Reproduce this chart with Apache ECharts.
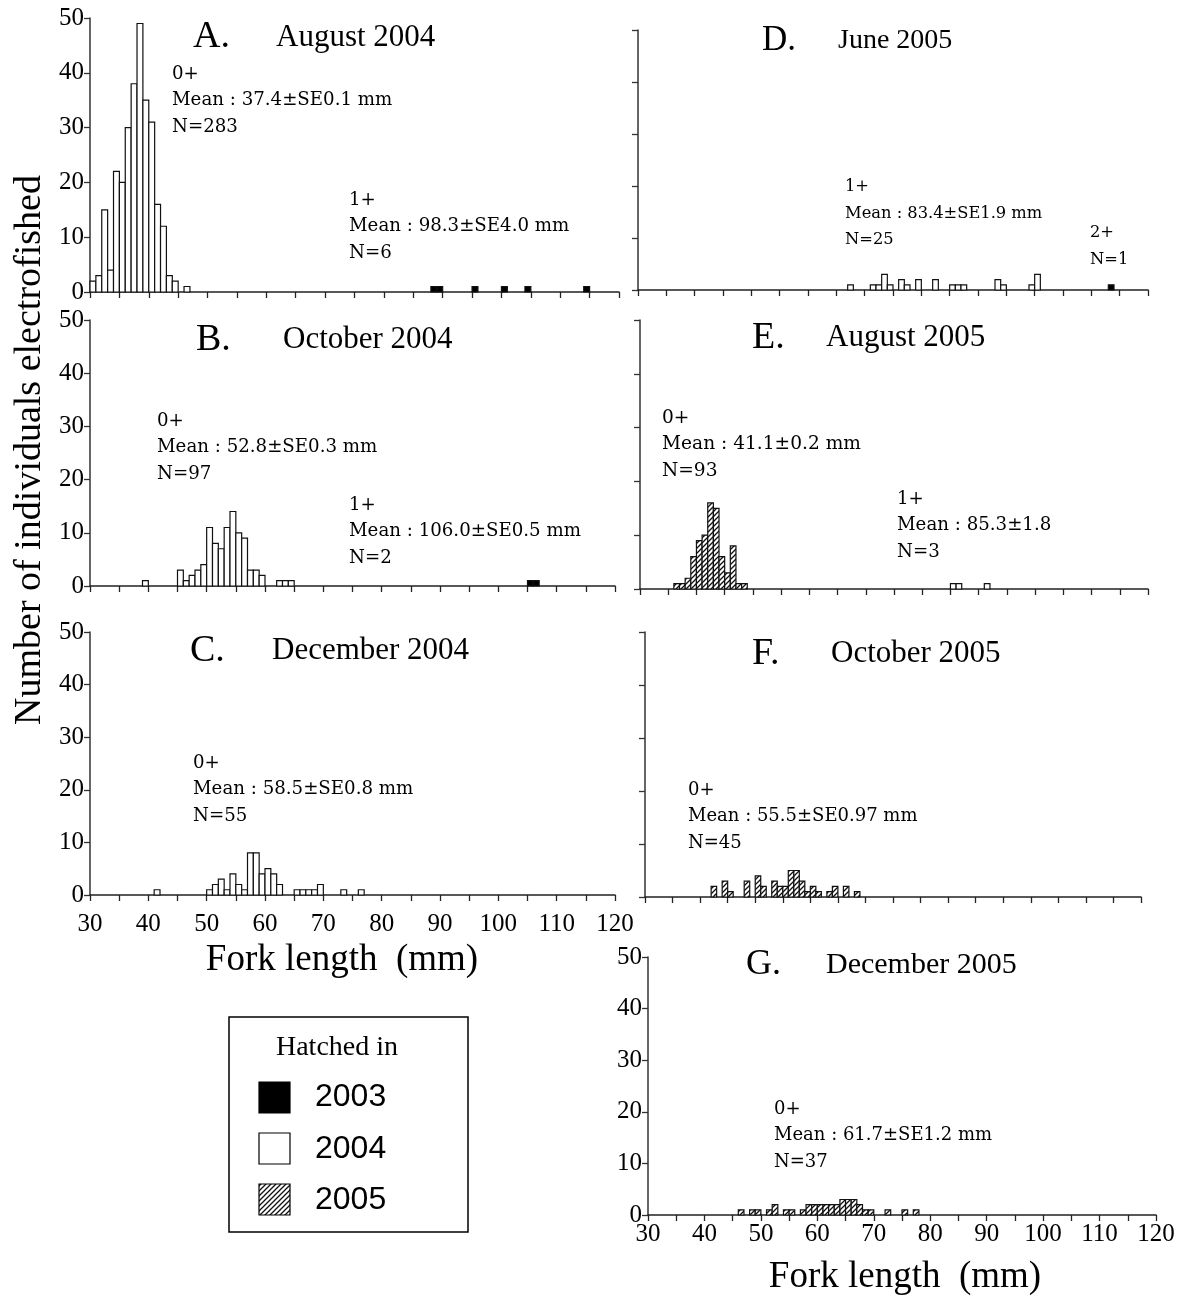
<!DOCTYPE html>
<html><head><meta charset="utf-8">
<script src="https://cdn.jsdelivr.net/npm/echarts@6/dist/echarts.min.js"></script>
<style>html,body{margin:0;padding:0;background:#fff}#c{width:1184px;height:1300px}</style>
</head><body><div id="c"></div>
<script>
// ---- Data: fork-length classes (mm, lower edge of 1-mm class) and counts ----
const xTicks = [30,40,50,60,70,80,90,100,110,120];
const yTicks = [0,10,20,30,40,50];

// A. August 2004
const aLen04 = [30,31,32,33,34,35,36,37,38,39,40,41,42,43,44,46];
const aCnt04 = [2,3,15,4,22,20,30,38,49,35,31,16,12,3,2,1];
const aLen03 = [88,89,95,100,104,114];
const aCnt03 = [1,1,1,1,1,1];
// B. October 2004
const bLen04 = [39,45,46,47,48,49,50,51,52,53,54,55,56,57,58,59,62,63,64];
const bCnt04 = [1,3,1,2,3,4,11,8,7,11,14,10,9,3,3,2,1,1,1];
const bLen03 = [105,106];
const bCnt03 = [1,1];
// C. December 2004
const cLen04 = [41,50,51,52,53,54,55,56,57,58,59,60,61,62,65,66,67,68,69,73,76];
const cCnt04 = [1,1,2,3,1,4,2,1,8,8,4,5,4,2,1,1,1,1,2,1,1];
// D. June 2005
const dLen04 = [67,71,72,73,74,76,77,79,82,85,86,87,93,94,99,100];
const dCnt04 = [1,1,1,3,1,2,1,2,2,1,1,1,2,1,1,3];
const dLen03 = [113];
const dCnt03 = [1];
// E. August 2005
const eLen05 = [36,37,38,39,40,41,42,43,44,45,46,47,48];
const eCnt05 = [1,1,2,6,9,10,16,15,6,3,8,1,1];
const eLen04 = [85,86,91];
const eCnt04 = [1,1,1];
// F. October 2005
const fLen05 = [42,44,45,48,50,51,53,54,55,56,57,58,59,60,61,63,64,66,68];
const fCnt05 = [2,3,1,3,4,2,3,2,2,5,5,3,1,2,1,1,2,2,1];
// G. December 2005
const gLen05 = [46,48,49,51,52,54,55,57,58,59,60,61,62,63,64,65,66,67,68,69,72,75,77];
const gCnt05 = [1,1,1,1,2,1,1,1,2,2,2,2,2,2,3,3,3,2,1,1,1,1,1];

// ---- hatch pattern ----
function makeHatch(){
  const s = 5, cv = document.createElement('canvas');
  cv.width = s; cv.height = s;
  const ctx = cv.getContext('2d');
  ctx.fillStyle = '#fff'; ctx.fillRect(0,0,s,s);
  ctx.strokeStyle = '#111'; ctx.lineWidth = 1.3;
  ctx.beginPath();
  ctx.moveTo(0,s); ctx.lineTo(s,0);
  ctx.moveTo(-1,1); ctx.lineTo(1,-1);
  ctx.moveTo(s-1,s+1); ctx.lineTo(s+1,s-1);
  ctx.stroke();
  return cv;
}
const hatch = {image: makeHatch(), repeat: 'repeat'};
const FILL = {y2003:'#000', y2004:'#fff', y2005: hatch};

const SERIF = '"Liberation Serif", "DejaVu Serif", serif';
const NOTE = '"DejaVu Serif", serif';
const SANS = '"Liberation Sans", Arial, sans-serif';

const panels = [
  {left:90, top:18, width:529, height:274, yl:true, xl:false},
  {left:90, top:320, width:525, height:266, yl:true, xl:false},
  {left:90, top:632, width:525, height:263, yl:true, xl:true, xm:17},
  {left:638, top:30, width:510, height:260, yl:false, xl:false},
  {left:640, top:320, width:508, height:269, yl:false, xl:false},
  {left:645, top:632, width:496, height:265, yl:false, xl:false},
  {left:648, top:957, width:508, height:258, yl:true, xl:true, xm:7}
];

const grid = [], xAxis = [], yAxis = [];
panels.forEach((p,i)=>{
  grid.push({left:p.left, top:p.top, width:p.width, height:p.height, containLabel:false});
  xAxis.push({type:'value', gridIndex:i, min:30, max:120, interval:5,
    axisLine:{show:true, onZero:false, lineStyle:{color:'#222', width:1.5}},
    axisTick:{show:true, inside:false, length:6, lineStyle:{color:'#222', width:1.3}},
    splitLine:{show:false},
    axisLabel:{show:p.xl, margin:p.xm||10, color:'#000', fontFamily:SERIF, fontSize:25,
      formatter:(v)=> xTicks.indexOf(v)>=0 ? String(v) : ''}
  });
  yAxis.push({type:'value', gridIndex:i, min:0, max:50, interval:10,
    axisLine:{show:true, lineStyle:{color:'#333', width:1.5}},
    axisTick:{show:true, inside:false, length:6, lineStyle:{color:'#333', width:1.3}},
    splitLine:{show:false},
    axisLabel:{show:p.yl, margin:6, color:'#000', fontFamily:SERIF, fontSize:25,
      formatter:(v)=> yTicks.indexOf(v)>=0 ? String(v) : ''}
  });
});

function hist(idx, lens, cnts, fill){
  return {
    type:'custom', xAxisIndex:idx, yAxisIndex:idx, clip:false,
    encode:{x:0, y:1},
    data: lens.map((x,i)=>[x, cnts[i]]),
    renderItem:(params, api)=>{
      const x = api.value(0), y = api.value(1);
      const p0 = api.coord([x, 0]);
      const p1 = api.coord([x+1, y]);
      return {type:'rect',
        shape:{x:p0[0], y:p1[1], width:p1[0]-p0[0], height:p0[1]-p1[1]},
        style:{fill:fill, stroke:'#111', lineWidth:1.2}};
    }
  };
}

const series = [
  hist(0, aLen04, aCnt04, FILL.y2004), hist(0, aLen03, aCnt03, FILL.y2003),
  hist(1, bLen04, bCnt04, FILL.y2004), hist(1, bLen03, bCnt03, FILL.y2003),
  hist(2, cLen04, cCnt04, FILL.y2004),
  hist(3, dLen04, dCnt04, FILL.y2004), hist(3, dLen03, dCnt03, FILL.y2003),
  hist(4, eLen05, eCnt05, FILL.y2005), hist(4, eLen04, eCnt04, FILL.y2004),
  hist(5, fLen05, fCnt05, FILL.y2005),
  hist(6, gLen05, gCnt05, FILL.y2005)
];

function txt(x, y, s, size, font, extra){
  return {type:'text', x:x, y:y, z:10,
    style:Object.assign({text:s, fontSize:size, fontFamily:font||SERIF, fill:'#000',
      textAlign:'left', textVerticalAlign:'middle'}, extra||{})};
}
function block(x, y, lines, size){
  return lines.map((s,i)=>txt(x, y+i*26.5, s, size||18.2, NOTE));
}

const yTitle = txt(30,450,'Number of individuals electrofished',38,SERIF,{textAlign:'center'});
yTitle.rotation = Math.PI/2;

const graphic = [].concat(
  // panel titles
  [txt(193,37,'A.',38), txt(276,38,'August 2004',31),
   txt(196,340,'B.',38), txt(283,340,'October 2004',31),
   txt(190,651,'C.',38), txt(272,651,'December 2004',31),
   txt(762,41,'D.',35), txt(838,41,'June 2005',28),
   txt(752,338,'E.',38), txt(826,338,'August 2005',31),
   txt(752,654,'F.',38), txt(831,654,'October 2005',31),
   txt(746,965,'G.',36), txt(826,965,'December 2005',30)],
  block(172,74,['0+','Mean : 37.4\u00B1SE0.1 mm','N=283']),
  block(349,200,['1+','Mean : 98.3\u00B1SE4.0 mm','N=6']),
  block(157,421,['0+','Mean : 52.8\u00B1SE0.3 mm','N=97']),
  block(349,505,['1+','Mean : 106.0\u00B1SE0.5 mm','N=2']),
  block(193,763,['0+','Mean : 58.5\u00B1SE0.8 mm','N=55']),
  block(845,187,['1+','Mean : 83.4\u00B1SE1.9 mm','N=25'],16.3),
  block(1090,233,['2+','N=1'],16.3),
  block(662,418,['0+','Mean : 41.1\u00B10.2 mm','N=93'],18.6),
  block(897,499,['1+','Mean : 85.3\u00B11.8','N=3']),
  block(688,790,['0+','Mean : 55.5\u00B1SE0.97 mm','N=45'],18),
  block(774,1109,['0+','Mean : 61.7\u00B1SE1.2 mm','N=37'],18),
  [
    yTitle,
    txt(342,960,'Fork length  (mm)',37,SERIF,{textAlign:'center'}),
    txt(905,1277,'Fork length  (mm)',37,SERIF,{textAlign:'center'}),
    // legend
    {type:'rect', shape:{x:229, y:1017, width:239, height:215}, style:{fill:'#fff', stroke:'#000', lineWidth:1.5}},
    txt(337,1048,'Hatched in',28,SERIF,{textAlign:'center'}),
    {type:'rect', shape:{x:259, y:1082, width:31, height:31}, style:{fill:FILL.y2003, stroke:'#000', lineWidth:1.2}},
    {type:'rect', shape:{x:259, y:1133, width:31, height:31}, style:{fill:FILL.y2004, stroke:'#000', lineWidth:1.2}},
    {type:'rect', shape:{x:259, y:1184, width:31, height:31}, style:{fill:FILL.y2005, stroke:'#000', lineWidth:1.2}},
    txt(315,1097,'2003',32,SANS), txt(315,1149,'2004',32,SANS), txt(315,1200,'2005',32,SANS)
  ]
);

const chart = echarts.init(document.getElementById('c'), null, {renderer:'canvas'});
chart.setOption({
  animation:false, backgroundColor:'#fff',
  grid, xAxis, yAxis, series, graphic
});
</script></body></html>
